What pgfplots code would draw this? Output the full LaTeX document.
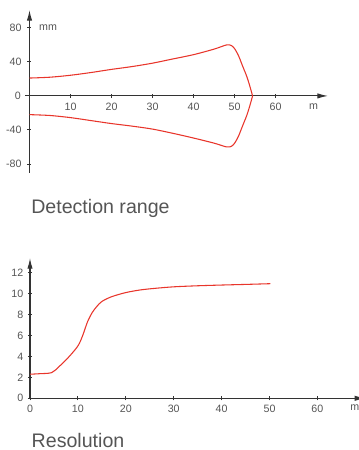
\documentclass[border=0pt]{standalone}
\usepackage{fontspec}
\setmainfont{Liberation Sans}
\usepackage{pgfplots}
\pgfplotsset{compat=1.18}
\usetikzlibrary{arrows.meta}
\definecolor{curve}{HTML}{E8352B}
\definecolor{txt}{HTML}{555555}
\definecolor{ax}{HTML}{333333}
\begin{document}
\begin{tikzpicture}
\useasboundingbox (0pt,0pt) rectangle (269.25pt,337.5pt);
\pgfplotsset{
  common/.style={
    scale only axis,
    /pgf/number format/assume math mode=true,
    tick label style={font=\fontsize{8}{9}\selectfont, text=txt},
    axis line style={draw=ax, line width=0.8pt},
    tick style={draw=ax, line width=0.7pt},
    major tick length=3pt,
    tick align=outside,
    clip=false,
  }
}
% Detection range
\begin{axis}[common,
  at={(22.125pt,207.75pt)}, anchor=south west,
  width=223.9pt, height=122.25pt,
  axis lines=middle,
  axis line style={draw=ax, line width=0.8pt, -{Latex[length=8pt,width=4pt]}},
  xmin=0, xmax=72.8, ymin=-90.6, ymax=101,
  xtick={10,20,30,40,50,60},
  ytick={-80,-40,0,40,80},
  yticklabel style={xshift=-1pt},
]
\addplot[curve, line width=0.8pt, smooth, tension=0.5] coordinates {
(0,21) (5,22) (10,24.3) (15,27.5) (20,31.2) (25,34.5) (30,38.5) (35,43.5) (40,48.5) (45,55) (48.1,60) (49.3,59) (50.1,55) (51,47) (51.7,38.4) (52.4,30) (53,22.7) (53.7,12) (54.4,0)};
\addplot[curve, line width=0.8pt, smooth, tension=0.5] coordinates {
(0,-22) (5,-23) (10,-25.5) (15,-29) (20,-32.5) (25,-35.5) (30,-39) (35,-44) (40,-49.5) (45,-55.5) (48.1,-60) (49.3,-59) (50.1,-55) (51,-47) (51.7,-38.4) (52.4,-30) (53,-22.7) (53.7,-12) (54.4,0)};
\draw[ax, line width=0.7pt] (axis cs:0,0) -- ++(-3pt,0pt);
\node[anchor=east, text=txt, font=\fontsize{8}{9}\selectfont] at ([xshift=-3pt]axis cs:0,0) {0};
\node[anchor=west, text=txt, font=\fontsize{8}{9}\selectfont] at (axis cs:1.2,80) {mm};
\node[text=txt, font=\fontsize{8}{9}\selectfont] at (axis cs:69.3,-12) {m};
\end{axis}
\node[anchor=base west, text=txt, font=\fontsize{14.7}{16}\selectfont, inner sep=0pt] at (23.25pt,177pt) {Detection range};
% Resolution
\begin{axis}[common,
  at={(22.5pt,38.775pt)}, anchor=south west,
  width=251.5pt, height=105.2pt,
  axis lines=left,
  axis line style={draw=ax, line width=0.8pt, -{Latex[length=8pt,width=4pt]}},
  xmin=0, xmax=70, ymin=0, ymax=13.4,
  xtick={0,10,20,30,40,50,60},
  ytick={0,2,4,6,8,10,12},
]
\addplot[curve, line width=0.8pt, smooth, tension=0.5] coordinates {
(0,2.3) (2,2.35) (4.5,2.45) (6,3.0) (8,3.9) (10,5.0) (11,6.0) (12,7.3) (13,8.2) (14,8.8) (15,9.25) (17,9.7) (20,10.1) (23,10.35) (26,10.5) (30,10.65) (35,10.75) (40,10.82) (45,10.88) (50.2,10.95)};
\node[text=txt, font=\fontsize{8}{9}\selectfont] at (axis cs:67.8,-0.85) {m};
\end{axis}
\node[anchor=base west, text=txt, font=\fontsize{14.7}{16}\selectfont, inner sep=0pt] at (23.6pt,2pt) {Resolution};
\end{tikzpicture}
\end{document}
